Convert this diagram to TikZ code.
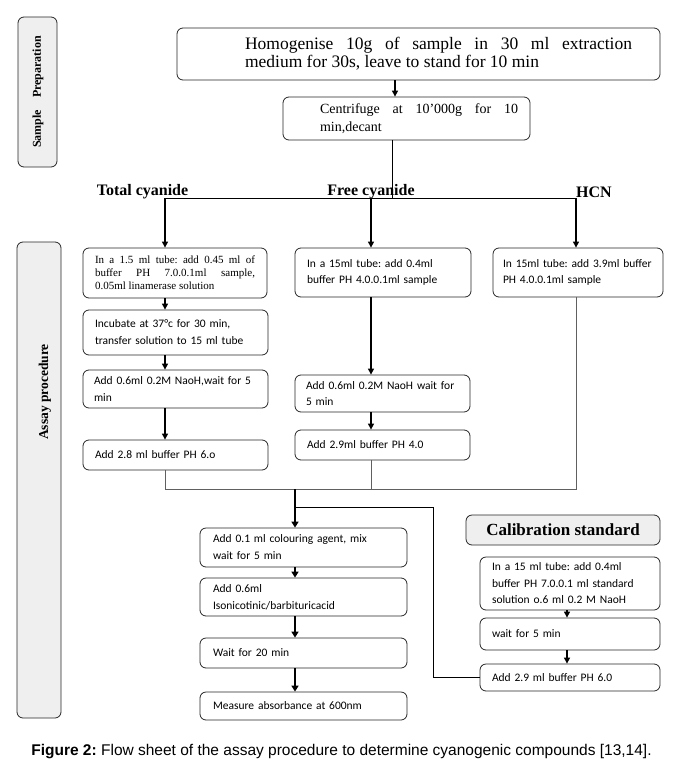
\documentclass[tikz,border=0pt]{standalone}
\usepackage{fontspec}
\setmainfont{Liberation Serif}
\newfontfamily\calfont{Carlito}
\newfontfamily\arialfont{Liberation Sans}
\usetikzlibrary{arrows.meta}
\definecolor{tabgray}{HTML}{EFEFEF}
\definecolor{linegray}{HTML}{606060}
\frenchspacing
\tikzset{
  box/.style={draw=black!85, line width=0.8pt, rounded corners=6pt, inner sep=0pt},
  sbox/.style={box, font=\calfont\fontsize{11.5}{15.5}\selectfont, align=left, inner xsep=12pt},
  tab/.style={box, fill=tabgray},
  arr/.style={line width=1.1pt, -{Triangle[length=6pt,width=6pt]}},
  barr/.style={line width=1.8pt, -{Triangle[length=6pt,width=7pt]}},
  conn/.style={line width=0.9pt, draw=linegray},
  lab/.style={font=\bfseries\fontsize{16}{18}\selectfont, inner sep=0pt}
}
\begin{document}
\begin{tikzpicture}[x=1pt,y=-1pt]
\useasboundingbox (0,0) rectangle (683,770);
% side tabs
\node[tab, minimum width=39pt, minimum height=150pt] (sp) at (37.5,92) {};
\node[rotate=90, font=\bfseries\fontsize{12}{14}\selectfont] at (38,92) {Sample\quad Preparation};
\node[tab, minimum width=44pt, minimum height=476pt] (ap) at (39,480) {};
\node[rotate=90, font=\bfseries\fontsize{13.5}{16}\selectfont] at (45,392) {Assay procedure};
% sample preparation
\node[box, minimum width=483pt, minimum height=52pt, font=\fontsize{17.5}{18}\selectfont] (hom) at (418.5,54)
  {\hspace*{40pt}\parbox{387pt}{Homogenise 10g of sample in 30 ml extraction\linebreak medium for 30s, leave to stand for 10 min}};
\node[box, minimum width=247pt, minimum height=43pt, font=\fontsize{14}{18}\selectfont] (cen) at (406.5,118.5)
  {\hspace*{25pt}\parbox{198pt}{Centrifuge at 10'000g for 10\linebreak min,decant}};
\coordinate (xh) at (395,0);
\draw[arr] (xh |- hom.south) -- (xh |- cen.north);
% branch labels
\node[lab] (lt) at (142.5,192) {Total cyanide};
\node[lab] (lf) at (371,192) {Free cyanide};
\node[lab] (lh) at (594,192) {HCN};
% column x positions
\coordinate (xl) at (165,0);
\coordinate (xm) at (371,0);
\coordinate (xr) at (576,0);
\coordinate (xc) at (392,0);
\coordinate (split) at (392,198);
% first row
\node[box, minimum width=184pt, minimum height=50pt, text width=160pt, inner xsep=12pt, align=justify,
  font=\fontsize{11}{13}\selectfont] (b1) at (175,273)
  {In a 1.5 ml tube: add 0.45 ml of\linebreak buffer PH 7.0.0.1ml sample,\linebreak 0.05ml linamerase solution};
\node[sbox, minimum width=176pt, minimum height=49pt, text width=152pt] (f1) at (383,272.5)
  {In a 15ml tube: add 0.4ml\\buffer PH 4.0.0.1ml sample};
\node[sbox, minimum width=170pt, minimum height=49pt, text width=150pt, inner xsep=10pt] (h1) at (578,272.5)
  {In 15ml tube: add 3.9ml buffer\\PH 4.0.0.1ml sample};
\draw[conn, draw=black] (xc |- cen.south) -- (split);
\draw[conn, draw=black] (xl |- split) -- (xr |- split);
\draw[arr] (xl |- split) -- (xl |- b1.north);
\draw[arr] (xm |- split) -- (xm |- f1.north);
\draw[arr] (xr |- split) -- (xr |- h1.north);
% total cyanide column
\node[sbox, minimum width=185pt, minimum height=45pt, text width=161pt, font=\calfont\fontsize{11.5}{17}\selectfont] (inc) at (175.5,332.5)
  {Incubate at 37\textdegree c for 30 min,\\transfer solution to 15 ml tube};
\node[sbox, minimum width=185pt, minimum height=38pt, text width=163pt, inner xsep=11pt, font=\calfont\fontsize{11.5}{17}\selectfont] (n1) at (175.5,389)
  {Add 0.6ml 0.2M NaoH,wait for 5\\min};
\node[sbox, minimum width=185pt, minimum height=30pt, text width=161pt] (u1) at (175.5,455)
  {Add 2.8 ml buffer PH 6.o};
\draw[arr] (xl |- b1.south) -- (xl |- inc.north);
\draw[arr] (xl |- inc.south) -- (xl |- n1.north);
\draw[arr] (xl |- n1.south) -- (xl |- u1.north);
% free cyanide column
\node[sbox, minimum width=175pt, minimum height=37pt, text width=153pt, inner xsep=11pt, font=\calfont\fontsize{11.5}{16}\selectfont] (n2) at (382.5,393.5)
  {Add 0.6ml 0.2M NaoH wait for\\5 min};
\node[sbox, minimum width=175pt, minimum height=30pt, text width=151pt] (u2) at (382.5,445)
  {Add 2.9ml buffer PH 4.0};
\draw[arr] (xm |- f1.south) -- (xm |- n2.north);
\draw[arr] (xm |- n2.south) -- (xm |- u2.north);
% merge
\coordinate (merge) at (295,489);
\coordinate (xb) at (295,0);
\draw[conn] (xl |- u1.south) -- (xl |- merge) -- (xr |- merge) -- (xr |- h1.south);
\draw[conn] (xm |- u2.south) -- (xm |- merge);
% colour development
\node[sbox, minimum width=207pt, minimum height=39pt, text width=181pt, inner xsep=13pt, font=\calfont\fontsize{11.5}{17}\selectfont] (c1) at (303.5,547.5)
  {Add 0.1 ml colouring agent, mix\\wait for 5 min};
\node[sbox, minimum width=207pt, minimum height=38pt, text width=181pt, inner xsep=13pt, font=\calfont\fontsize{11.5}{17}\selectfont] (c2) at (303.5,597)
  {Add 0.6ml\\Isonicotinic/barbituricacid};
\node[sbox, minimum width=207pt, minimum height=30pt, text width=181pt, inner xsep=13pt] (c3) at (303.5,653)
  {Wait for 20 min};
\node[sbox, minimum width=207pt, minimum height=28pt, text width=181pt, inner xsep=13pt] (c4) at (303.5,706)
  {Measure absorbance at 600nm};
\draw[barr] (merge) -- (xb |- c1.north);
\draw[barr] (xb |- c1.south) -- (xb |- c2.north);
\draw[barr] (xb |- c2.south) -- (xb |- c3.north);
\draw[barr] (xb |- c3.south) -- (xb |- c4.north);
% calibration standard
\node[tab, minimum width=194pt, minimum height=30pt, font=\bfseries\fontsize{17}{18}\selectfont] (calt) at (563,530) {Calibration standard};
\node[sbox, minimum width=180pt, minimum height=53pt, text width=156pt, font=\calfont\fontsize{11.5}{16.5}\selectfont] (k1) at (570,583.5)
  {In a 15 ml tube: add 0.4ml\\buffer PH 7.0.0.1 ml standard\\solution o.6 ml 0.2 M NaoH};
\node[sbox, minimum width=180pt, minimum height=32pt, text width=156pt] (k2) at (570,634)
  {wait for 5 min};
\node[sbox, minimum width=180pt, minimum height=27pt, text width=156pt] (k3) at (570,677.5)
  {Add 2.9 ml buffer PH 6.0};
\coordinate (xk) at (567,0);
\draw[arr] (xk |- k1.south) -- (xk |- k2.north);
\draw[arr] (xk |- k2.south) -- (xk |- k3.north);
\coordinate (tee) at (295,507);
\coordinate (bend) at (433,507);
\draw[conn, draw=black] (tee) -- (bend) -- (bend |- k3.west) -- (k3.west);
% caption
\node[font=\arialfont\fontsize{15.5}{17}\selectfont, inner sep=0pt] (cap) at (341.5,752)
  {\textbf{Figure 2:} Flow sheet of the assay procedure to determine cyanogenic compounds [13,14].};
\end{tikzpicture}
\end{document}
